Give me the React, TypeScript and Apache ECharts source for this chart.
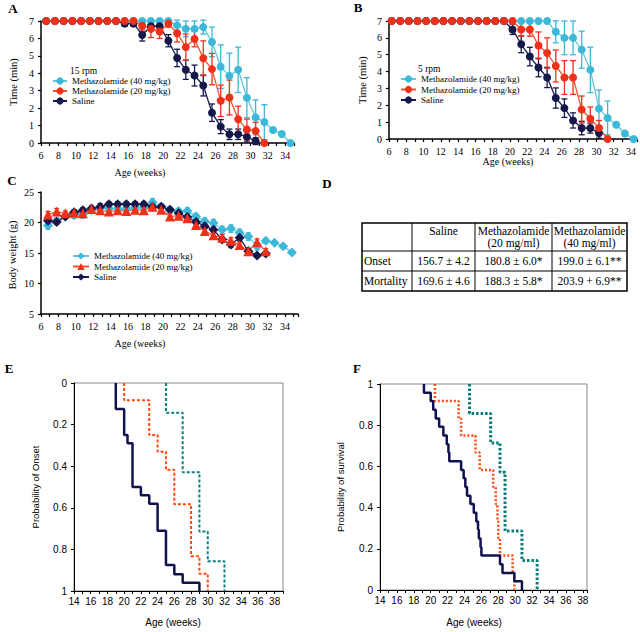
import React, { useEffect, useRef } from 'react';
import * as echarts from 'echarts';

const SERIF = 'Liberation Serif, Times New Roman, serif';
const SANS = 'Liberation Sans, Arial, sans-serif';

const weeks = [6, 7, 8, 9, 10, 11, 12, 13, 14, 15, 16, 17, 18, 19, 20, 21, 22, 23, 24, 25, 26, 27, 28, 29, 30, 31, 32, 33, 34];

// Panel A (15 rpm), Time (min)
const cyanA = [7, 7, 7, 7, 7, 7, 7, 7, 7, 7, 7, 7, 7, 7, 7, 6.75, 6.55, 6.55, 6.65, 5.8, 4.38, 3.85, 4.2, 2.6, 1.47, 1.2, 0.75, 0.52, 0];
const cyanAErr = [0, 0, 0, 0, 0, 0, 0, 0, 0, 0, 0, 0, 0, 0, 0, 0.3, 0.45, 0.45, 0.4, 0.85, 1.25, 1.3, 1.3, 1.15, 1.0, 1.0, 0, 0, 0];
const redA = [7, 7, 7, 7, 7, 7, 7, 7, 7, 7, 7, 6.73, 6.55, 6.4, 6.85, 6.3, 5.5, 5.97, 4.86, 4.24, 2.42, 2.61, 1.36, 0.77, 0.69, 0];
const redAErr = [0, 0, 0, 0, 0, 0, 0, 0, 0, 0, 0, 0.3, 0.5, 0.4, 0.2, 0.5, 0.75, 0.45, 1.0, 0.9, 0.9, 1.0, 0.75, 0.6, 0.5, 0];
const salineA = [7, 7, 7, 7, 7, 7, 7, 7, 7, 6.85, 6.85, 6.2, 6.7, 6.7, 5.87, 4.88, 4.2, 3.87, 3.3, 1.74, 0.94, 0.5, 0.5, 0.36, 0.11];
const salineAErr = [0, 0, 0, 0, 0, 0, 0, 0, 0, 0.15, 0.15, 0.35, 0.2, 0.2, 0.35, 0.5, 0.55, 0.6, 0.6, 0.5, 0.4, 0.3, 0.3, 0.3, 0.2];

// Panel B (5 rpm)
const cyanB = [7, 7, 7, 7, 7, 7, 7, 7, 7, 7, 7, 7, 7, 7, 7, 7, 7, 7, 7, 6.36, 6.0, 6.0, 5.3, 4.1, 1.8, 1.25, 0.85, 0.33, 0];
const cyanBErr = [0, 0, 0, 0, 0, 0, 0, 0, 0, 0, 0, 0, 0, 0, 0, 0, 0, 0, 0, 0.65, 1.0, 1.0, 1.1, 1.35, 1.1, 1.0, 0, 0, 0];
const redB = [7, 7, 7, 7, 7, 7, 7, 7, 7, 7, 7, 7, 7, 7, 7, 6.5, 6.5, 5.55, 5.1, 4.33, 3.65, 3.65, 1.75, 1.2, 0.65, 0];
const redBErr = [0, 0, 0, 0, 0, 0, 0, 0, 0, 0, 0, 0, 0, 0, 0, 0.4, 0.4, 0.8, 0.9, 0.95, 1.0, 1.0, 0.8, 0.7, 0.45, 0];
const salineB = [7, 7, 7, 7, 7, 7, 7, 7, 7, 7, 7, 7, 7, 7, 6.5, 5.62, 4.89, 4.24, 3.65, 2.43, 1.83, 1.1, 0.65, 0.65, 0.35];
const salineBErr = [0, 0, 0, 0, 0, 0, 0, 0, 0, 0, 0, 0, 0, 0, 0.3, 0.5, 0.55, 0.55, 0.6, 0.6, 0.55, 0.45, 0.4, 0.3, 0.3];

// Panel C, body weight (g)
const cyanC = [19.5, 20.3, 21.0, 21.2, 21.4, 22.0, 22.4, 22.3, 22.3, 22.3, 22.4, 22.5, 23.3, 22.6, 22.0, 21.9, 21.9, 21.0, 20.2, 19.9, 18.8, 19.0, 18.3, 17.7, 16.1, 17.0, 16.7, 16.1, 15.1];
const cyanCErr = [0.6, 0.5, 0.4, 0.5, 0.7, 0.5, 0.7, 0.4, 0.4, 0.4, 0.4, 0.4, 0.6, 0.4, 0.4, 0.4, 0.5, 0.5, 0.5, 0.6, 0.6, 0.6, 0.6, 0.6, 0.6, 0.4, 0.3, 0.3, 0.3];
const redC = [21.3, 21.8, 21.5, 21.6, 21.5, 22.2, 22.0, 21.8, 22.0, 21.9, 22.1, 22.0, 22.6, 22.1, 21.0, 21.1, 20.7, 19.6, 18.6, 17.9, 17.5, 17.0, 16.3, 15.3, 16.8, 15.3];
const redCErr = [0.5, 0.5, 0.4, 0.4, 0.4, 0.4, 0.4, 0.4, 0.4, 0.4, 0.4, 0.4, 0.4, 0.4, 0.4, 0.4, 0.4, 0.4, 0.4, 0.4, 0.5, 0.5, 0.5, 0.5, 0.5, 0.4];
const salineC = [20.3, 20.1, 21.0, 21.7, 22.0, 22.3, 22.6, 23.0, 23.0, 23.0, 23.0, 23.0, 22.6, 22.6, 22.1, 21.5, 20.9, 20.1, 19.4, 18.8, 17.2, 16.4, 17.5, 15.3, 14.6, 14.9];
const salineCErr = [0.4, 0.4, 0.4, 0.4, 0.4, 0.4, 0.5, 0.4, 0.4, 0.4, 0.4, 0.4, 0.4, 0.4, 0.4, 0.4, 0.4, 0.4, 0.4, 0.4, 0.4, 0.5, 0.5, 0.4, 0.3, 0.3];

// Panel E: probability of onset (cumulative)
const onsetSalineT = [19, 20, 20.4, 21, 22, 23, 24, 25, 26, 27, 29];
const onsetSalineP = [0.125, 0.25, 0.29, 0.5, 0.54, 0.58, 0.71, 0.875, 0.92, 0.96, 1.0];
const onset20T = [20, 23, 24, 25, 26, 28, 29, 30];
const onset20P = [0.083, 0.25, 0.33, 0.417, 0.583, 0.833, 0.917, 1.0];
const onset40T = [25, 27, 29, 30, 32];
const onset40P = [0.143, 0.429, 0.714, 0.857, 1.0];

// Panel F: probability of survival
const survSalineT = [19.2, 20.0, 20.3, 20.6, 21.0, 21.5, 21.9, 22.1, 22.2, 23.6, 23.9, 24.1, 24.3, 24.7, 25.1, 25.4, 25.6, 25.7, 25.9, 26.0, 28.2, 28.5, 29.9, 30.8];
const survSalineS = [0.958, 0.917, 0.875, 0.833, 0.792, 0.75, 0.708, 0.667, 0.625, 0.583, 0.542, 0.5, 0.458, 0.417, 0.375, 0.333, 0.292, 0.25, 0.208, 0.167, 0.125, 0.083, 0.042, 0];
const surv20T = [20.5, 23.3, 23.6, 25.3, 25.8, 27.4, 27.7, 27.9, 28.0, 28.2, 29.7, 29.9];
const surv20S = [0.917, 0.833, 0.75, 0.667, 0.583, 0.5, 0.417, 0.333, 0.25, 0.167, 0.083, 0];
const surv40T = [24.6, 27.1, 28.2, 28.8, 30.8, 32.6];
const surv40S = [0.857, 0.714, 0.571, 0.286, 0.143, 0];

// Panel D table
const tableHeader = ['', 'Saline', 'Methazolamide\n(20 mg/ml)', 'Methazolamide\n(40 mg/ml)'];
const tableRows = [
  ['Onset', '156.7 ± 4.2', '180.8 ± 6.0*', '199.0 ± 6.1**'],
  ['Mortality', '169.6 ± 4.6', '188.3 ± 5.8*', '203.9 + 6.9**'],
];

const N40 = 'Methazolamide (40 mg/kg)';
const N20 = 'Methazolamide (20 mg/kg)';
const NS = 'Saline';

const CYAN = '#3cb9d8';
const CYAN_L = '#63c6df';
const RED = '#f1301a';
const RED_L = '#e9562e';
const NAVY = '#15184a';

const OFF_A = 0.6;
const OFF_B = 0.3;
const OFF_C = 0.8;

function pts(vals: number[], off: number) {
  return vals.map((v, i) => [weeks[i] + off, v]);
}
function errPts(vals: number[], errs: number[], off: number) {
  return vals.map((v, i) => [weeks[i] + off, v, errs[i]]);
}
function kmOnset(T: number[], P: number[]) {
  return [[T[0], 0], ...T.map((t, i) => [t, P[i]])];
}
function kmSurv(T: number[], S: number[]) {
  return [[T[0], 1], ...T.map((t, i) => [t, S[i]])];
}

function errSeries(data: number[][], color: string, xi: number, cap = 3) {
  return {
    type: 'custom',
    xAxisIndex: xi,
    yAxisIndex: xi,
    data,
    encode: { x: 0, y: 1 },
    z: 2,
    renderItem: (params: any, api: any) => {
      const x = api.value(0);
      const y = api.value(1);
      const e = api.value(2);
      if (!e) return null;
      const t = api.coord([x, y + e]);
      const b = api.coord([x, y - e]);
      const st = { stroke: color, lineWidth: 1.3 };
      return {
        type: 'group',
        children: [
          { type: 'line', shape: { x1: t[0], y1: t[1], x2: b[0], y2: b[1] }, style: st },
          { type: 'line', shape: { x1: t[0] - cap, y1: t[1], x2: t[0] + cap, y2: t[1] }, style: st },
          { type: 'line', shape: { x1: b[0] - cap, y1: b[1], x2: b[0] + cap, y2: b[1] }, style: st },
        ],
      };
    },
  };
}

function lineSeries(name: string, data: number[][], color: string, lineColor: string, xi: number, symbol = 'circle', size = 8) {
  return {
    type: 'line',
    name,
    xAxisIndex: xi,
    yAxisIndex: xi,
    data,
    symbol,
    symbolSize: size,
    z: 3,
    itemStyle: { color, borderWidth: 0 },
    lineStyle: { color: lineColor, width: 1.3 },
  };
}

function stepSeries(data: number[][], color: string, xi: number, width: number, type: any) {
  return {
    type: 'line',
    xAxisIndex: xi,
    yAxisIndex: xi,
    data,
    step: 'end',
    symbol: 'none',
    lineStyle: { color, width, type },
    z: 3,
  };
}

const evenLabel = (v: number) => {
  const r = Math.round(v);
  return Math.abs(v - r) < 1e-6 && r % 2 === 0 ? String(r) : '';
};

function xAxisSerif(gi: number, min: number, max: number) {
  return {
    type: 'value', gridIndex: gi, min, max, interval: 1,
    axisLine: { show: true, onZero: false, lineStyle: { color: '#000', width: 1.5 } },
    axisTick: { show: true, length: 3, lineStyle: { color: '#000', width: 1.2 } },
    axisLabel: { formatter: evenLabel, fontFamily: SERIF, fontSize: 10, color: '#000', margin: 7 },
    splitLine: { show: false },
  };
}
function yAxisSerif(gi: number, min: number, max: number, interval: number) {
  return {
    type: 'value', gridIndex: gi, min, max, interval,
    axisLine: { show: true, onZero: false, lineStyle: { color: '#000', width: 1.5 } },
    axisTick: { show: true, length: 3, lineStyle: { color: '#000', width: 1.2 } },
    axisLabel: { fontFamily: SERIF, fontSize: 10, color: '#000', margin: 7 },
    splitLine: { show: false },
  };
}
function xAxisSans(gi: number, max: number) {
  return {
    type: 'value', gridIndex: gi, min: 14, max, interval: 1,
    axisLine: { show: true, onZero: false, lineStyle: { color: '#000', width: 1 } },
    axisTick: { show: true, length: 3, lineStyle: { color: '#000' } },
    axisLabel: { formatter: evenLabel, fontFamily: SANS, fontSize: 10, color: '#000', margin: 5 },
    splitLine: { show: false },
  };
}
function yAxisSans(gi: number, inverse: boolean) {
  return {
    type: 'value', gridIndex: gi, min: 0, max: 1, interval: 0.2, inverse,
    axisLine: { show: true, onZero: false, lineStyle: { color: '#000', width: 1 } },
    axisTick: { show: true, length: 3, lineStyle: { color: '#000' } },
    axisLabel: { formatter: (v: number) => String(Math.round(v * 10) / 10), fontFamily: SANS, fontSize: 10, color: '#000', margin: 7 },
    splitLine: { show: false },
  };
}

function legend(tag: string, left: number, top: number, iw: number, gap: number) {
  return {
    data: [N40 + '#' + tag, N20 + '#' + tag, NS + '#' + tag],
    orient: 'vertical', left, top, padding: 0, itemGap: gap,
    itemWidth: iw, itemHeight: 9, selectedMode: false,
    formatter: (n: string) => n.split('#')[0],
    textStyle: { fontFamily: SERIF, fontSize: 9, color: '#000', lineHeight: 10, padding: 0 },
  };
}

function axisTitle(text: string, x: number, y: number, font: string, size: number, vertical = false) {
  return {
    type: 'text', x, y, rotation: vertical ? Math.PI / 2 : 0,
    style: { text, fill: '#000', font: `${size}px ${font}`, align: 'center', verticalAlign: 'middle' },
  };
}

const colX = [362, 412, 475, 552, 627];
const rowY = [223, 251, 271, 291];

function tableGraphics() {
  const els: any[] = [];
  els.push({ type: 'rect', shape: { x: colX[0], y: rowY[0], width: colX[4] - colX[0], height: rowY[3] - rowY[0] }, style: { fill: 'none', stroke: '#000', lineWidth: 1.5 } });
  for (let i = 1; i < colX.length - 1; i++) {
    els.push({ type: 'line', shape: { x1: colX[i], y1: rowY[0], x2: colX[i], y2: rowY[3] }, style: { stroke: '#000', lineWidth: 1 } });
  }
  for (let j = 1; j < rowY.length - 1; j++) {
    els.push({ type: 'line', shape: { x1: colX[0], y1: rowY[j], x2: colX[4], y2: rowY[j] }, style: { stroke: '#000', lineWidth: 1 } });
  }
  tableHeader.forEach((h, i) => {
    if (!h) return;
    els.push({ type: 'text', x: (colX[i] + colX[i + 1]) / 2, y: rowY[0] + 2, style: { text: h, fill: '#000', font: `11.5px ${SERIF}`, align: 'center', verticalAlign: 'top', lineHeight: 12 } });
  });
  tableRows.forEach((r, j) => {
    const cy = (rowY[j + 1] + rowY[j + 2]) / 2;
    r.forEach((c, i) => {
      els.push({
        type: 'text',
        x: i === 0 ? colX[0] + 2 : (colX[i] + colX[i + 1]) / 2,
        y: cy,
        style: { text: c, fill: '#000', font: `11.5px ${SERIF}`, align: i === 0 ? 'left' : 'center', verticalAlign: 'middle' },
      });
    });
  });
  return els;
}

function letter(t: string, x: number, y: number) {
  return { type: 'text', x, y, style: { text: t, fill: '#000', font: `bold 13px ${SERIF}`, align: 'center', verticalAlign: 'middle' } };
}

const option: any = {
  animation: false,
  backgroundColor: '#fff',
  grid: [
    { left: 41, top: 21, width: 253, height: 122 },
    { left: 389, top: 21, width: 248, height: 118 },
    { left: 41, top: 192, width: 257, height: 122 },
    { left: 74, top: 383, width: 209, height: 208, show: true, borderColor: '#888', borderWidth: 1 },
    { left: 380, top: 384, width: 207, height: 206, show: true, borderColor: '#888', borderWidth: 1 },
  ],
  xAxis: [
    xAxisSerif(0, 6, 35),
    xAxisSerif(1, 6, 34.7),
    xAxisSerif(2, 6, 35.5),
    xAxisSans(3, 39),
    xAxisSans(4, 38.5),
  ],
  yAxis: [
    yAxisSerif(0, 0, 7, 1),
    yAxisSerif(1, 0, 7, 1),
    yAxisSerif(2, 5, 25, 5),
    yAxisSans(3, true),
    yAxisSans(4, false),
  ],
  legend: [
    legend('A', 52, 76, 14, 0),
    legend('B', 400, 74, 15, 0.5),
    legend('C', 72, 251, 16, 0.5),
  ],
  series: [
    // A
    errSeries(errPts(cyanA, cyanAErr, OFF_A), CYAN, 0),
    lineSeries(N40 + '#A', pts(cyanA, OFF_A), CYAN, CYAN_L, 0),
    errSeries(errPts(salineA, salineAErr, OFF_A), NAVY, 0),
    lineSeries(NS + '#A', pts(salineA, OFF_A), NAVY, NAVY, 0),
    errSeries(errPts(redA, redAErr, OFF_A), RED, 0),
    lineSeries(N20 + '#A', pts(redA, OFF_A), RED, RED_L, 0),
    // B
    errSeries(errPts(cyanB, cyanBErr, OFF_B), CYAN, 1),
    lineSeries(N40 + '#B', pts(cyanB, OFF_B), CYAN, CYAN_L, 1),
    errSeries(errPts(salineB, salineBErr, OFF_B), NAVY, 1),
    lineSeries(NS + '#B', pts(salineB, OFF_B), NAVY, NAVY, 1),
    errSeries(errPts(redB, redBErr, OFF_B), RED, 1),
    lineSeries(N20 + '#B', pts(redB, OFF_B), RED, RED_L, 1),
    // C
    errSeries(errPts(cyanC, cyanCErr, OFF_C), CYAN, 2, 2.5),
    lineSeries(N40 + '#C', pts(cyanC, OFF_C), CYAN, CYAN_L, 2, 'diamond', 10),
    errSeries(errPts(salineC, salineCErr, OFF_C), NAVY, 2, 2.5),
    lineSeries(NS + '#C', pts(salineC, OFF_C), NAVY, NAVY, 2, 'diamond', 10),
    errSeries(errPts(redC, redCErr, OFF_C), RED, 2, 2.5),
    lineSeries(N20 + '#C', pts(redC, OFF_C), RED, RED_L, 2, 'triangle', 10),
    // E
    stepSeries(kmOnset(onset40T, onset40P), '#0a8080', 3, 2, [3, 2]),
    stepSeries(kmOnset(onset20T, onset20P), '#ff4a12', 3, 2, [3, 2]),
    stepSeries(kmOnset(onsetSalineT, onsetSalineP), '#10124f', 3, 2.5, 'solid'),
    // F
    stepSeries(kmSurv(surv40T, surv40S), '#0a7a7a', 4, 3, [2.5, 2]),
    stepSeries(kmSurv(surv20T, surv20S), '#ff4a12', 4, 2.5, [2, 2]),
    stepSeries(kmSurv(survSalineT, survSalineS), '#10124f', 4, 2.5, 'solid'),
  ],
  graphic: [
    letter('A', 13, 8),
    letter('B', 358, 7),
    letter('C', 12, 180),
    letter('D', 327, 183),
    letter('E', 9, 368),
    letter('F', 357, 368),
    { type: 'text', x: 70, y: 71, style: { text: '15 rpm', fill: '#000', font: `9.5px ${SERIF}`, align: 'left', verticalAlign: 'middle' } },
    { type: 'text', x: 418, y: 69, style: { text: '5 rpm', fill: '#000', font: `9.5px ${SERIF}`, align: 'left', verticalAlign: 'middle' } },
    axisTitle('Age (weeks)', 140, 172, SERIF, 10),
    axisTitle('Age (weeks)', 508, 161, SERIF, 10),
    axisTitle('Age (weeks)', 140, 343, SERIF, 10),
    axisTitle('Age (weeks)', 173, 622, SANS, 10),
    axisTitle('Age (weeks)', 474, 622, SANS, 10),
    axisTitle('Time (min)', 13, 82, SERIF, 10.5, true),
    axisTitle('Time (min)', 362, 80, SERIF, 10.5, true),
    axisTitle('Body weight (g)', 12, 255, SERIF, 10.5, true),
    axisTitle('Probability of Onset', 35, 487, SANS, 9.5, true),
    axisTitle('Probability of survival', 340, 487, SANS, 9.5, true),
    ...tableGraphics(),
  ],
};

export default function App() {
  const ref = useRef<HTMLDivElement>(null);
  useEffect(() => {
    const chart = echarts.init(ref.current as HTMLDivElement, undefined, { renderer: 'svg' });
    chart.setOption(option);
    return () => chart.dispose();
  }, []);
  return <div ref={ref} style={{ position: 'fixed', left: 0, top: 0, width: 640, height: 632, background: '#fff' }} />;
}
